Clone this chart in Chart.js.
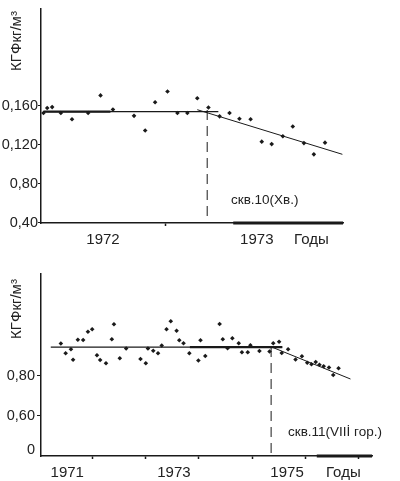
<!DOCTYPE html>
<html>
<head>
<meta charset="utf-8">
<script src="https://cdn.jsdelivr.net/npm/chart.js@4"></script>
<style>
  html, body { margin: 0; padding: 0; background: #fff; }
  #wrap { position: relative; width: 400px; height: 481px; }
  .box { position: absolute; left: 0; width: 400px; }
  #b1 { top: 0; height: 250px; }
  #b2 { top: 250px; height: 231px; }
</style>
</head>
<body>
<div id="wrap">
  <div class="box" id="b1"><canvas id="c1"></canvas></div>
  <div class="box" id="b2"><canvas id="c2"></canvas></div>
</div>
<script>
// ---------- common text ----------
const yTitle = "КГФкг/м³";

// ---------- top chart (скв.10) ----------
const topYears = [1972.02, 1972.05, 1972.09, 1972.16, 1972.25, 1972.38, 1972.48, 1972.58, 1972.75, 1972.84,
  1972.92, 1973.02, 1973.10, 1973.18, 1973.26, 1973.35, 1973.44, 1973.52, 1973.60, 1973.69,
  1973.78, 1973.86, 1973.95, 1974.03, 1974.12, 1974.20, 1974.29];
const topValues = [0.1525, 0.1575, 0.1585, 0.1525, 0.146, 0.1525, 0.1705, 0.156, 0.1495, 0.1345,
  0.1635, 0.1745, 0.1525, 0.1525, 0.1675, 0.158, 0.149, 0.1525, 0.1465, 0.146,
  0.123, 0.1205, 0.1285, 0.1385, 0.1215, 0.110, 0.122];
const topFlatX = [1972.02, 1973.43];
const topFlatThickX = [1972.02, 1972.56];
const topFlatY = 0.1538;
const topTrendX = [1973.26, 1974.43];
const topTrendY = [0.1558, 0.110];
const topBreakX = 1973.34;
const topBreakY = 0.1555;
const topXRange = [1972.0, 1974.435];
const topYRange = [0.0395, 0.2595];
const topThickAxisX = [1973.55, 1974.435];
const topXTickVals = [1972.5, 1973.0, 1973.74, 1974.18];
const topXTickLabels = ["1972", "", "1973", "Годы"];
const topYTickVals = [0.04, 0.08, 0.12, 0.16];
const topYTickLabels = ["0,40", "0,80", "0,120", "0,160"];
const topNote = "скв.10(Хв.)";

// ---------- bottom chart (скв.11) ----------
const botYears = [1971.40, 1971.49, 1971.59, 1971.63, 1971.72, 1971.82, 1971.91, 1971.99, 1972.08, 1972.14,
  1972.25, 1972.36, 1972.40, 1972.51, 1972.63, 1972.90, 1973.00, 1973.04, 1973.14, 1973.23,
  1973.30, 1973.39, 1973.47, 1973.58, 1973.63, 1973.71, 1973.82, 1973.99, 1974.03, 1974.12,
  1974.39, 1974.45, 1974.54, 1974.63, 1974.75, 1974.81, 1974.92, 1974.97, 1975.14, 1975.33,
  1975.40, 1975.51, 1975.56, 1975.68, 1975.82, 1975.94, 1976.04, 1976.12, 1976.20, 1976.27,
  1976.35, 1976.45, 1976.53, 1976.63];
const botValues = [0.960, 0.911, 0.931, 0.879, 0.979, 0.9775, 1.019, 1.031, 0.901, 0.8775,
  0.8615, 0.9815, 1.056, 0.886, 0.935, 0.8825, 0.8615, 0.935, 0.9235, 0.9115,
  0.950, 1.0315, 1.0715, 1.024, 0.976, 0.9615, 0.911, 0.875, 0.976, 0.8975,
  1.0575, 0.981, 0.936, 0.986, 0.961, 0.916, 0.916, 0.9515, 0.9225, 0.920,
  0.961, 0.9685, 0.9125, 0.931, 0.880, 0.896, 0.8635, 0.8565, 0.8675, 0.854,
  0.846, 0.840, 0.8025, 0.8365];
const botFlatX = [1971.21, 1975.57];
const botFlatThickX = [1973.83, 1975.57];
const botFlatY = 0.9415;
const botTrendX = [1975.37, 1976.855];
const botTrendY = [0.9425, 0.7825];
const botBreakX = 1975.36;
const botBreakY = 0.9425;
const botXRange = [1971.026, 1977.26];
const botYRange = [0.3975, 1.3075];
const botThickAxisX = [1976.22, 1977.26];
const botXTickVals = [1971.52, 1972, 1973, 1973.53, 1974, 1975, 1975.66, 1976, 1976.72, 1977];
const botXTickLabels = ["1971", "", "", "1973", "", "", "1975", "", "Годы", ""];
const botYTickVals = [0.4275, 0.60, 0.80];
const botYTickLabels = ["0", "0,60", "0,80"];
const botNote = "скв.11(VIIİ гор.)";

// ---------- helpers ----------
const FONT = '"Liberation Sans", Arial, sans-serif';
const INK = '#1a1a1a';

const textPlugin = {
  id: 'texts',
  afterDraw(chart, args, o) {
    const c = chart.ctx;
    c.save();
    c.fillStyle = '#222';
    c.font = `15px ${FONT}`;
    c.translate(o.titleX, o.titleY);
    c.rotate(-Math.PI / 2);
    c.textAlign = 'center';
    c.textBaseline = 'middle';
    c.fillText(yTitle, 0, 0);
    c.restore();
    c.save();
    c.fillStyle = '#222';
    c.font = `${o.noteSize}px ${FONT}`;
    c.textAlign = 'left';
    c.textBaseline = 'middle';
    c.fillText(o.note, o.noteX, o.noteY);
    c.restore();
  }
};

function lineDs(xs, ys, width, dash) {
  return {
    type: 'scatter', showLine: true,
    data: xs.map((x, i) => ({ x, y: ys[i] })),
    borderColor: INK, backgroundColor: INK,
    borderWidth: width, borderDash: dash || [],
    pointRadius: 0, clip: false
  };
}

function makeChart(id, cfg) {
  const pts = {
    type: 'scatter',
    data: cfg.xs.map((x, i) => ({ x, y: cfg.ys[i] })),
    pointStyle: 'rectRot', pointRadius: 2.3,
    backgroundColor: INK, borderColor: INK, borderWidth: 0
  };
  const datasets = [
    pts,
    lineDs(cfg.flatX, [cfg.flatY, cfg.flatY], 1.3),
    lineDs(cfg.flatThickX, [cfg.flatY, cfg.flatY], 2.3),
    lineDs(cfg.trendX, cfg.trendY, 1),
    lineDs([cfg.breakX, cfg.breakX], [cfg.breakY, cfg.yRange[0]], 1, [10, 6]),
    lineDs(cfg.thickAxisX, [cfg.yRange[0], cfg.yRange[0]], 3)
  ];
  return new Chart(document.getElementById(id), {
    type: 'scatter',
    data: { datasets },
    options: {
      responsive: true, maintainAspectRatio: false, animation: false,
      layout: { padding: { top: cfg.padTop, right: cfg.padRight, left: 0, bottom: 0 } },
      plugins: {
        legend: { display: false }, tooltip: { enabled: false },
        texts: cfg.texts
      },
      scales: {
        x: {
          type: 'linear', min: cfg.xRange[0], max: cfg.xRange[1],
          afterBuildTicks: s => { s.ticks = cfg.xTickVals.map(v => ({ value: v })); },
          afterFit: s => { s.height = cfg.xHeight; },
          ticks: {
            autoSkip: false, maxRotation: 0, minRotation: 0, padding: cfg.xPad,
            color: '#222', font: { family: FONT, size: 15 },
            callback: (v, i) => cfg.xTickLabels[i]
          },
          grid: {
            drawOnChartArea: false, drawTicks: true, tickLength: 3, tickWidth: 1.5,
            tickColor: ctx => (cfg.xTickLabels[ctx.index] === '' ? INK : 'rgba(0,0,0,0)')
          },
          border: { color: INK, width: 1.5 }
        },
        y: {
          type: 'linear', min: cfg.yRange[0], max: cfg.yRange[1],
          afterBuildTicks: s => { s.ticks = cfg.yTickVals.map(v => ({ value: v })); },
          afterFit: s => { s.width = 41; },
          ticks: {
            autoSkip: false, padding: cfg.yPad,
            color: '#222', font: { family: FONT, size: 14.5 },
            callback: (v, i) => cfg.yTickLabels[i]
          },
          grid: {
            drawOnChartArea: false, drawTicks: true, tickLength: cfg.yTickLen, tickWidth: 1,
            tickColor: ctx => (cfg.yTickLabels[ctx.index] === '0' ? 'rgba(0,0,0,0)' : INK)
          },
          border: { color: INK, width: 1.5 }
        }
      }
    },
    plugins: [textPlugin]
  });
}

makeChart('c1', {
  xs: topYears, ys: topValues,
  flatX: topFlatX, flatThickX: topFlatThickX, flatY: topFlatY,
  trendX: topTrendX, trendY: topTrendY,
  breakX: topBreakX, breakY: topBreakY,
  xRange: topXRange, yRange: topYRange, thickAxisX: topThickAxisX,
  xTickVals: topXTickVals, xTickLabels: topXTickLabels,
  yTickVals: topYTickVals, yTickLabels: topYTickLabels,
  padTop: 3, padRight: 57, xHeight: 27, xPad: 5, yPad: 0, yTickLen: 3,
  texts: { titleX: 17, titleY: 41, note: topNote, noteX: 231, noteY: 200, noteSize: 13.5 }
});

makeChart('c2', {
  xs: botYears, ys: botValues,
  flatX: botFlatX, flatThickX: botFlatThickX, flatY: botFlatY,
  trendX: botTrendX, trendY: botTrendY,
  breakX: botBreakX, breakY: botBreakY,
  xRange: botXRange, yRange: botYRange, thickAxisX: botThickAxisX,
  xTickVals: botXTickVals, xTickLabels: botXTickLabels,
  yTickVals: botYTickVals, yTickLabels: botYTickLabels,
  padTop: 24, padRight: 28, xHeight: 25, xPad: 5, yPad: 2, yTickLen: 4,
  texts: { titleX: 17, titleY: 59, note: botNote, noteX: 288, noteY: 182, noteSize: 13.5 }
});
</script>
</body>
</html>
